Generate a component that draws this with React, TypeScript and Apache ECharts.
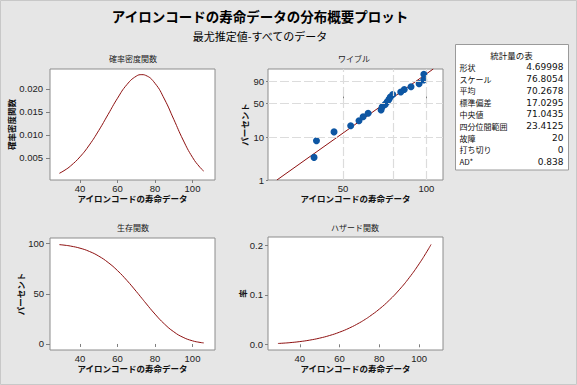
import React, { useEffect, useRef } from 'react';
import * as echarts from 'echarts';

const FONT = '"Noto Sans CJK JP", "Noto Sans", sans-serif';
const NUM_FONT = '"DejaVu Sans", "Noto Sans", sans-serif';
const TICK_FONT = '"Liberation Sans", "DejaVu Sans", sans-serif';

const mainTitle = 'アイロンコードの寿命データの分布概要プロット';
const subTitle = '最尤推定値-すべてのデータ';
const panelTitles = ['確率密度関数', 'ワイブル', '生存関数', 'ハザード関数'];
const xAxisName = 'アイロンコードの寿命データ';
const yAxisNames = ['確率密度関数', 'パーセント', 'パーセント', '率'];

// curve sample points
const lifeX = [29, 32, 35, 40, 45, 50, 55, 60, 65, 70, 73, 75, 80, 85, 90, 95, 100, 104, 106];
const pdfValues = [0.00165, 0.00236, 0.00326, 0.00523, 0.00781, 0.01095, 0.01445, 0.01795, 0.02091, 0.02274, 0.02307, 0.02292, 0.02119, 0.01779, 0.01338, 0.00888, 0.00512, 0.00294, 0.00214];
const survivalValues = [98.98, 98.38, 97.54, 95.45, 92.21, 87.54, 81.2, 73.1, 63.35, 52.37, 45.49, 40.88, 29.78, 19.97, 12.16, 6.61, 3.15, 1.56, 1.06];
const hazardValues = [0.00167, 0.0024, 0.00334, 0.00548, 0.00847, 0.01251, 0.01779, 0.02455, 0.03301, 0.04343, 0.05072, 0.05606, 0.07118, 0.08908, 0.11005, 0.13443, 0.16252, 0.1879, 0.20163];

// Weibull probability plot
const failureTimes = [39.3, 40.1, 46.4, 53.3, 57.1, 59.1, 61.6, 68.6, 69.2, 71.0, 72.2, 73.3, 74.1, 75.6, 80.8, 83.2, 88.0, 94.1, 97.8, 97.9];
const failurePercents = [3.43, 8.33, 13.24, 18.14, 23.04, 27.94, 32.84, 37.75, 42.65, 47.55, 52.45, 57.35, 62.25, 67.16, 72.06, 76.96, 81.86, 86.76, 91.67, 96.57];
const fitLineX = [28.86, 105.9];
const fitLinePercent = [1, 98.93];
const weibullYTicks = [1, 10, 50, 90];
const weibullYGrid = [10, 50, 90];
const weibullXTicks = [50, 100];
const weibullXGrid = [50, 75, 100];

const linearXTicks = [40, 60, 80, 100];
const pdfTicks = [0.005, 0.01, 0.015, 0.02];
const survivalTicks = [0, 50, 100];
const hazardTicks = [0, 0.1, 0.2];

const statLabels = ['形状', 'スケール', '平均', '標準偏差', '中央値', '四分位間範囲', '故障', '打ち切り', 'AD*'];
const statValues = ['4.69998', '76.8054', '70.2678', '17.0295', '71.0435', '23.4125', '20', '0', '0.838'];

const wb = (p: number) => Math.log(-Math.log(1 - p / 100));
const wbInv = (v: number) => 100 * (1 - Math.exp(-Math.exp(v)));

const LINE_COLOR = '#8e1010';
const LABEL_COLOR = '#222';

export default function App() {
  const ref = useRef<HTMLDivElement>(null);
  useEffect(() => {
    if (!ref.current) return;
    const chart = echarts.init(ref.current, undefined, { renderer: 'svg' });

    const gridPos = [
      { left: 50, top: 69, width: 165, height: 111 },
      { left: 268, top: 69, width: 175, height: 111 },
      { left: 50, top: 238, width: 165, height: 112 },
      { left: 268, top: 237, width: 175, height: 113 },
    ];
    const grid = gridPos.map((g) => ({
      ...g,
      show: true,
      backgroundColor: '#ffffff',
      borderColor: '#8c8c8c',
      borderWidth: 1,
      containLabel: false,
    }));

    const nameStyle = { fontFamily: FONT, fontSize: 8.5, fontWeight: 'bold' as const, color: '#111' };
    const labelStyle = { fontFamily: TICK_FONT, fontSize: 9.5, color: LABEL_COLOR };

    const xLinear = (gridIndex: number) => ({
      type: 'value',
      gridIndex,
      min: 24,
      max: 112,
      name: xAxisName,
      nameLocation: 'middle',
      nameGap: 14,
      nameTextStyle: nameStyle,
      axisLine: { show: false },
      axisTick: { show: true, length: 3, customValues: linearXTicks, lineStyle: { color: '#7f7f7f' } },
      axisLabel: { ...labelStyle, margin: 3, customValues: linearXTicks },
      splitLine: { show: false },
    });

    const xAxis = [
      xLinear(0),
      {
        type: 'value',
        gridIndex: 1,
        min: Math.log10(26.8),
        max: Math.log10(114.8),
        name: xAxisName,
        nameLocation: 'middle',
        nameGap: 14,
        nameTextStyle: nameStyle,
        axisLine: { show: false },
        axisTick: { show: true, length: 2, customValues: weibullXTicks.map((v) => Math.log10(v)), lineStyle: { color: '#7f7f7f' } },
        axisLabel: {
          ...labelStyle,
          margin: 3,
          customValues: weibullXTicks.map((v) => Math.log10(v)),
          formatter: (v: number) => String(Math.round(Math.pow(10, v))),
        },
        splitLine: { show: false },
      },
      xLinear(2),
      xLinear(3),
    ];

    const yCommon = (gridIndex: number, nameGap: number) => ({
      type: 'value',
      gridIndex,
      name: yAxisNames[gridIndex],
      nameLocation: 'middle',
      nameGap,
      nameTextStyle: nameStyle,
      axisLine: { show: false },
      splitLine: { show: false },
    });

    const yAxis = [
      {
        ...yCommon(0, 32),
        min: 0.0002,
        max: 0.0243,
        axisTick: { show: true, length: 4, customValues: pdfTicks, lineStyle: { color: '#7f7f7f' } },
        axisLabel: { ...labelStyle, margin: 7, customValues: pdfTicks, formatter: (v: number) => v.toFixed(3) },
      },
      {
        ...yCommon(1, 20),
        min: wb(1),
        max: 1.511,
        axisTick: { show: true, length: 2, customValues: weibullYTicks.map(wb), lineStyle: { color: '#7f7f7f' } },
        axisLabel: {
          ...labelStyle,
          margin: 4,
          customValues: weibullYTicks.map(wb),
          formatter: (v: number) => String(Math.round(wbInv(v))),
        },
      },
      {
        ...yCommon(2, 22),
        min: -6,
        max: 105.6,
        axisTick: { show: true, length: 4, customValues: survivalTicks, lineStyle: { color: '#7f7f7f' } },
        axisLabel: { ...labelStyle, margin: 6, customValues: survivalTicks },
      },
      {
        ...yCommon(3, 22),
        nameRotate: 90,
        min: -0.0115,
        max: 0.2167,
        axisTick: { show: true, length: 3, customValues: hazardTicks, lineStyle: { color: '#7f7f7f' } },
        axisLabel: { ...labelStyle, margin: 5, customValues: hazardTicks, formatter: (v: number) => v.toFixed(1) },
      },
    ];

    const curve = (idx: number, values: number[]) => ({
      type: 'line',
      xAxisIndex: idx,
      yAxisIndex: idx,
      data: lifeX.map((x, i) => [x, values[i]]),
      smooth: true,
      showSymbol: false,
      lineStyle: { color: LINE_COLOR, width: 1 },
      silent: true,
    });

    const series: any[] = [
      curve(0, pdfValues),
      {
        type: 'line',
        xAxisIndex: 1,
        yAxisIndex: 1,
        z: 2,
        data: fitLineX.map((x, i) => [Math.log10(x), wb(fitLinePercent[i])]),
        showSymbol: false,
        lineStyle: { color: LINE_COLOR, width: 1 },
        silent: true,
        markLine: {
          silent: true,
          symbol: ['none', 'none'],
          label: { show: false },
          lineStyle: { color: '#dcdcdc', type: [9, 3], width: 1.2 },
          emphasis: { disabled: true },
          data: [
            ...weibullXGrid.map((v) => ({ xAxis: Math.log10(v) })),
            ...weibullYGrid.map((p) => ({ yAxis: wb(p) })),
          ],
        },
      },
      {
        type: 'scatter',
        xAxisIndex: 1,
        yAxisIndex: 1,
        z: 4,
        data: failureTimes.map((x, i) => [Math.log10(x), wb(failurePercents[i])]),
        symbolSize: 7,
        itemStyle: { color: '#0d56a3', opacity: 1 },
        silent: true,
      },
      curve(2, survivalValues),
      curve(3, hazardValues),
    ];

    const text = (x: number, y: number, t: string, size: number, opts: any = {}) => ({
      type: 'text',
      x,
      y,
      silent: true,
      style: {
        text: t,
        fill: opts.fill || '#111',
        fontFamily: opts.family || FONT,
        fontSize: size,
        fontWeight: opts.weight || 'normal',
        align: opts.align || 'center',
        verticalAlign: 'middle',
        lineHeight: opts.lineHeight || Math.round(size * 1.25),
      },
    });

    const panelTitlePos = [
      [133, 58],
      [354, 58],
      [133, 227],
      [355, 227],
    ];

    const graphic: any[] = [
      {
        type: 'rect',
        shape: { x: 0.5, y: 0.5, width: 576, height: 384 },
        style: { fill: 'none', stroke: '#c8c8c8', lineWidth: 1 },
        silent: true,
        z: 100,
      },
      text(260, 16, mainTitle, 13.5, { weight: 'bold', fill: '#000' }),
      text(260, 35.5, subTitle, 11, { fill: '#000' }),
      ...panelTitles.map((t, i) => text(panelTitlePos[i][0], panelTitlePos[i][1], t, 8, { fill: '#222' })),
      {
        type: 'rect',
        shape: { x: 455.5, y: 44.5, width: 113, height: 125.5 },
        style: { fill: '#ffffff', stroke: '#9a9a9a', lineWidth: 1 },
        silent: true,
      },
      text(511.5, 54.5, '統計量の表', 8.5, { fill: '#111', lineHeight: 10 }),
      ...statLabels.map((t, i) => text(459.5, 67.2 + i * 11.8, t, 8, { align: 'left', fill: '#111', lineHeight: 10 })),
      ...statValues.map((t, i) =>
        text(563.5, 67.2 + i * 11.8, t, 9, { align: 'right', fill: '#111', lineHeight: 10, family: NUM_FONT })
      ),
    ];

    chart.setOption({
      animation: false,
      backgroundColor: '#e6e6e6',
      grid,
      xAxis,
      yAxis,
      series,
      graphic,
    } as any);

    return () => chart.dispose();
  }, []);

  return <div ref={ref} style={{ position: 'absolute', left: 0, top: 0, width: 577, height: 385 }} />;
}
